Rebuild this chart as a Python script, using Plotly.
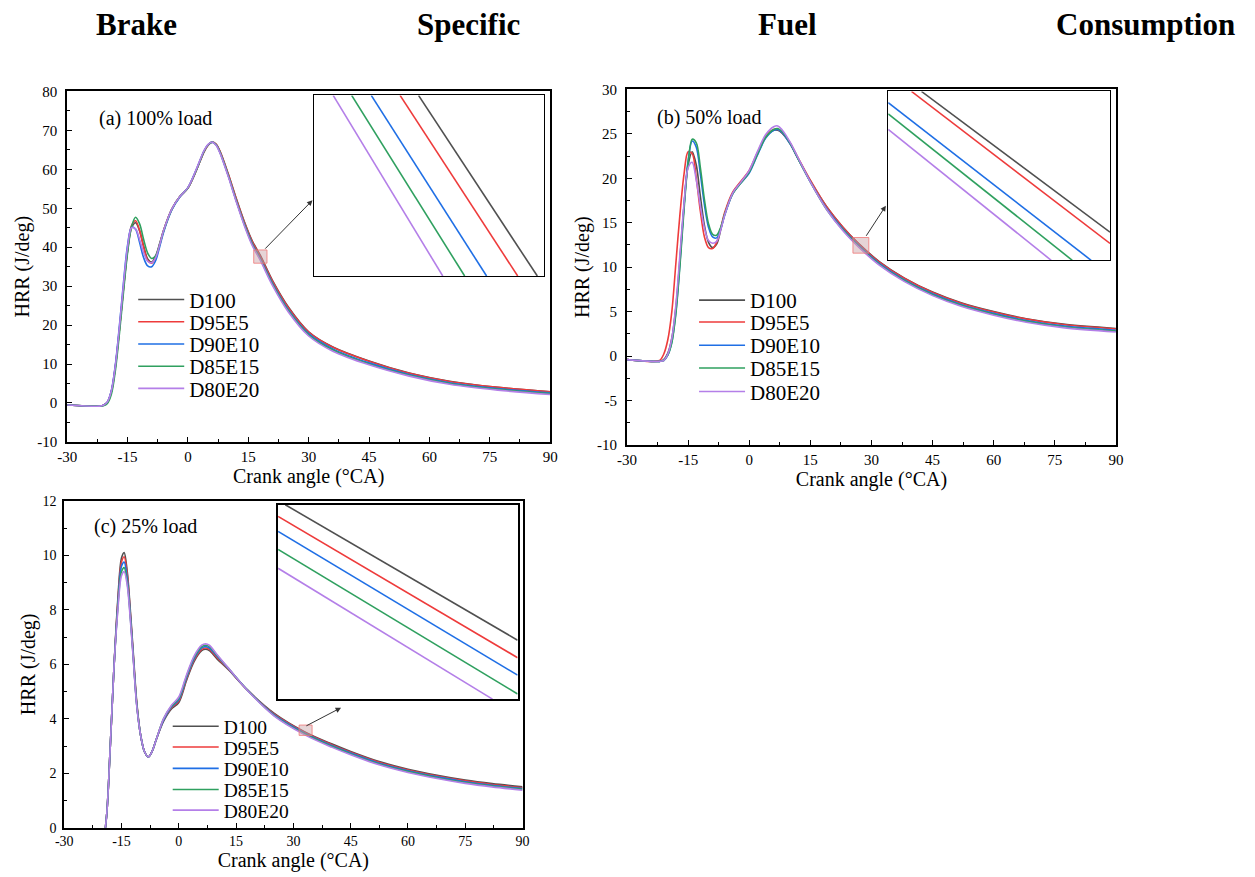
import plotly.graph_objects as go

W, H = 1255, 877
FONT = "Liberation Serif"

series_names = ["D100", "D95E5", "D90E10", "D85E15", "D80E20"]
series_colors = ["#505050", "#ee3b3b", "#1f6fe5", "#2fa05f", "#b47fe8"]

# ---------------- (a) 100% load ----------------
crank_a = [-30, -22, -21, -20, -19, -18, -17, -16, -15, -14, -13, -12, -11, -10, -9, -8, -7, -6,
           -4, -2, 0, 2, 4, 5, 6, 7, 8, 10, 12, 14, 16, 18, 21, 25, 30, 36, 45, 55, 65, 77, 90]
hrr_a_D100 = [-0.5, -0.8, -0.6, 0.2, 3.0, 9.5, 19, 29.5, 39, 45, 46.3, 44.2, 40.3, 37, 36.2, 37.8, 41, 44.5,
              49.8, 53, 55.2, 59.5, 64.5, 66.2, 67, 66.4, 64.5, 58.8, 52.5, 46.6, 41.6, 37.9, 31.5, 24.6, 18.3,
              14.4, 10.8, 7.7, 5.6, 4.0, 2.9]
hrr_a_D95E5 = [-0.5, -0.8, -0.6, 0.2, 3.0, 9.5, 19, 29.5, 39.3, 45.6, 46.8, 44.3, 40, 36.6, 35.9, 37.3, 40.7, 44.4,
               49.8, 53, 55.2, 59.5, 64.5, 66.2, 67, 66.5, 64.6, 58.9, 52.5, 46.5, 41.4, 37.6, 31.3, 24.4, 18.2,
               14.3, 10.7, 7.6, 5.5, 4.0, 2.9]
hrr_a_D90E10 = [-0.5, -0.8, -0.6, 0.3, 3.3, 10, 20, 31, 40.5, 45.2, 44.6, 41.2, 37.3, 35.2, 35, 36.6, 40.2, 44,
                49.6, 52.9, 55.3, 59.7, 64.7, 66.3, 67, 66.3, 64.3, 58.5, 52, 46, 40.9, 37.1, 30.8, 23.9, 17.8,
                13.9, 10.3, 7.3, 5.2, 3.7, 2.6]
hrr_a_D85E15 = [-0.5, -0.8, -0.7, -0.1, 2.3, 8.5, 18, 28.5, 38.5, 45.3, 47.7, 46, 42, 38.5, 37.1, 37.8, 40.8, 44.3,
                49.7, 53, 55.2, 59.6, 64.6, 66.3, 67, 66.3, 64.3, 58.5, 52, 45.9, 40.7, 36.9, 30.5, 23.6, 17.5,
                13.6, 10.0, 7.1, 5.0, 3.5, 2.4]
hrr_a_D80E20 = [-0.5, -0.8, -0.6, 0.3, 3.2, 9.8, 19.7, 30.5, 40, 45, 44.7, 42, 38.6, 36.4, 36, 37.3, 40.7, 44.4,
                49.8, 53, 55.3, 59.8, 64.8, 66.4, 67, 66.2, 64.1, 58.2, 51.7, 45.6, 40.4, 36.6, 30.2, 23.3, 17.2,
                13.3, 9.8, 6.9, 4.8, 3.3, 2.2]

# ---------------- (b) 50% load ----------------
crank_b = [-30, -24, -22, -21, -20, -19, -18, -17, -16, -15, -14, -13, -12, -11, -10, -9, -8, -7, -6,
           -4, -2, 0, 2, 4, 6, 7, 8, 10, 12, 15, 19, 23, 27, 32, 38, 45, 52, 60, 68, 77, 90]
hrr_b_D100 = [-0.4, -0.6, -0.6, -0.4, 0.3, 2.0, 5.5, 11, 17, 21.5, 23, 21.5, 18, 14.7, 12.8, 12.2, 12.6, 14.2, 16,
              18.4, 19.6, 20.8, 22.8, 24.6, 25.4, 25.4, 25.1, 23.9, 22.2, 19.7, 16.8, 14.5, 12.6, 10.6, 8.8,
              7.2, 6.0, 5.0, 4.2, 3.6, 3.1]
hrr_b_D95E5 = [-0.4, -0.6, -0.5, 0.2, 1.8, 5, 10.5, 16, 20.5, 23, 22.8, 20, 16.3, 13.4, 12.2, 12.1, 12.8, 14.4, 16.2,
               18.5, 19.7, 20.9, 22.9, 24.7, 25.5, 25.5, 25.2, 24.0, 22.3, 19.8, 16.8, 14.5, 12.55, 10.55, 8.75,
               7.15, 5.95, 4.95, 4.15, 3.55, 3.05]
hrr_b_D90E10 = [-0.4, -0.6, -0.6, -0.5, 0.1, 1.6, 5.0, 10.5, 17, 22, 24.2, 23.5, 20.5, 17, 14.5, 13.4, 13.3, 14.3, 15.9,
                18.3, 19.5, 20.6, 22.6, 24.5, 25.4, 25.5, 25.2, 23.9, 22.2, 19.6, 16.6, 14.3, 12.4, 10.4, 8.6,
                7.0, 5.8, 4.8, 4.0, 3.4, 2.9]
hrr_b_D85E15 = [-0.4, -0.6, -0.6, -0.5, 0.1, 1.5, 4.8, 10.2, 16.5, 21.8, 24.4, 24.0, 21.2, 17.6, 14.9, 13.7, 13.6, 14.5, 16.0,
                18.3, 19.5, 20.7, 22.7, 24.6, 25.5, 25.6, 25.3, 24.0, 22.2, 19.6, 16.5, 14.2, 12.3, 10.3, 8.5,
                6.9, 5.7, 4.7, 3.9, 3.3, 2.8]
hrr_b_D80E20 = [-0.4, -0.6, -0.6, -0.5, 0.2, 2.0, 5.8, 11.5, 17.2, 21.2, 21.8, 19.8, 16.9, 14.4, 13.0, 12.7, 12.9, 14.2, 15.9,
                18.4, 19.6, 20.9, 23.0, 24.9, 25.8, 25.9, 25.5, 24.1, 22.3, 19.6, 16.5, 14.1, 12.2, 10.2, 8.4,
                6.8, 5.6, 4.6, 3.8, 3.2, 2.7]

# ---------------- (c) 25% load ----------------
crank_c = [-30, -22, -20, -19, -18, -17, -16, -15, -14.3, -13.5, -13, -12, -11, -10, -9, -8, -7, -6,
           -4, -2, 0, 2, 4, 6, 7, 8, 10, 13, 18, 25, 33, 40, 45, 52, 60, 68, 75, 82, 90]
hrr_c_D100 = [-0.5, -0.6, -0.5, 0.3, 2.8, 5.8, 8.3, 9.9, 10.1, 9.4, 8.6, 6.6, 4.6, 3.4, 2.8, 2.6, 2.8, 3.2,
              3.9, 4.35, 4.6, 5.4, 6.1, 6.5, 6.55, 6.5, 6.2, 5.8, 5.05, 4.2, 3.52, 3.08, 2.8, 2.45, 2.15, 1.92,
              1.75, 1.62, 1.5]
hrr_c_D95E5 = [-0.5, -0.6, -0.5, 0.3, 2.8, 5.8, 8.2, 9.75, 9.95, 9.3, 8.5, 6.5, 4.55, 3.4, 2.8, 2.6, 2.8, 3.2,
               3.95, 4.4, 4.65, 5.45, 6.15, 6.55, 6.6, 6.55, 6.25, 5.82, 5.05, 4.17, 3.5, 3.05, 2.77, 2.42, 2.12, 1.89,
               1.72, 1.59, 1.47]
hrr_c_D90E10 = [-0.5, -0.6, -0.5, 0.3, 2.8, 5.8, 8.1, 9.6, 9.75, 9.15, 8.4, 6.45, 4.5, 3.4, 2.8, 2.6, 2.8, 3.2,
                3.95, 4.42, 4.7, 5.5, 6.2, 6.6, 6.65, 6.6, 6.3, 5.84, 5.05, 4.14, 3.47, 3.02, 2.74, 2.39, 2.09, 1.86,
                1.69, 1.56, 1.44]
hrr_c_D85E15 = [-0.5, -0.6, -0.5, 0.3, 2.8, 5.8, 8.0, 9.4, 9.55, 9.0, 8.3, 6.4, 4.5, 3.4, 2.8, 2.6, 2.8, 3.2,
                4.0, 4.45, 4.75, 5.55, 6.25, 6.65, 6.7, 6.65, 6.33, 5.85, 5.05, 4.12, 3.44, 2.99, 2.71, 2.36, 2.06, 1.83,
                1.66, 1.53, 1.41]
hrr_c_D80E20 = [-0.5, -0.6, -0.5, 0.3, 2.8, 5.8, 7.9, 9.25, 9.4, 8.9, 8.2, 6.35, 4.45, 3.4, 2.8, 2.6, 2.8, 3.2,
                4.0, 4.48, 4.8, 5.6, 6.3, 6.7, 6.75, 6.7, 6.36, 5.86, 5.04, 4.1, 3.41, 2.96, 2.68, 2.33, 2.03, 1.8,
                1.63, 1.5, 1.38]

# ---------------- zoomed insets (segment end points, same series order) ----------------
inset_a_xrange = [17.0, 19.0]
inset_a_yrange = [37.0, 39.0]
inset_a_x0 = [17.91, 17.75, 17.50, 17.33, 17.17]
inset_a_y0 = [39.0, 39.0, 39.0, 39.0, 39.0]
inset_a_x1 = [18.94, 18.77, 18.50, 18.31, 18.12]
inset_a_y1 = [37.0, 37.0, 37.0, 37.0, 37.0]

inset_b_xrange = [26.5, 28.5]
inset_b_yrange = [11.6, 12.8]
inset_b_x0 = [26.80, 26.71, 26.50, 26.50, 26.50]
inset_b_y0 = [12.80, 12.80, 12.72, 12.64, 12.53]
inset_b_x1 = [28.50, 28.50, 28.33, 28.16, 27.97]
inset_b_y1 = [11.80, 11.72, 11.60, 11.60, 11.60]

inset_c_xrange = [32.0, 34.0]
inset_c_yrange = [3.40, 3.70]
inset_c_x0 = [32.06, 32.0, 32.0, 32.0, 32.0]
inset_c_y0 = [3.700, 3.682, 3.659, 3.631, 3.602]
inset_c_x1 = [34.0, 34.0, 34.0, 34.0, 33.79]
inset_c_y1 = [3.491, 3.464, 3.437, 3.408, 3.400]

# zoom windows marked on the main charts: [x0, x1, y0, y1]
zoom_a = [16.35, 19.65, 35.9, 39.3]
zoom_b = [25.45, 29.35, 11.58, 13.34]
zoom_c = [31.5, 34.9, 3.39, 3.77]

# tick values / labels (plain hyphen as in the original)
x_tick_vals = [-30, -15, 0, 15, 30, 45, 60, 75, 90]
x_tick_text = ["-30", "-15", "0", "15", "30", "45", "60", "75", "90"]
y_tick_vals_a = [-10, 0, 10, 20, 30, 40, 50, 60, 70, 80]
y_tick_text_a = ["-10", "0", "10", "20", "30", "40", "50", "60", "70", "80"]
y_tick_vals_b = [-10, -5, 0, 5, 10, 15, 20, 25, 30]
y_tick_text_b = ["-10", "-5", "0", "5", "10", "15", "20", "25", "30"]
y_tick_vals_c = [0, 2, 4, 6, 8, 10, 12]
y_tick_text_c = ["0", "2", "4", "6", "8", "10", "12"]

# ---------------------------------------------------------------------------
def px(x):
    return x / W


def py(y):
    return 1 - y / H


def legend_key(k):
    return "legend" if k == 1 else "legend%d" % k


fig = go.Figure()

panels = [
    ("x", "y", crank_a, [hrr_a_D100, hrr_a_D95E5, hrr_a_D90E10, hrr_a_D85E15, hrr_a_D80E20]),
    ("x2", "y2", crank_b, [hrr_b_D100, hrr_b_D95E5, hrr_b_D90E10, hrr_b_D85E15, hrr_b_D80E20]),
    ("x3", "y3", crank_c, [hrr_c_D100, hrr_c_D95E5, hrr_c_D90E10, hrr_c_D85E15, hrr_c_D80E20]),
]
for p, (xa, ya, xs, ys_list) in enumerate(panels):
    for i, (name, color, ys) in enumerate(zip(series_names, series_colors, ys_list)):
        fig.add_trace(go.Scatter(x=xs, y=ys, mode="lines", name=name, legend=legend_key(p * 5 + i + 1),
                                 line=dict(color=color, width=1.6, shape="spline", smoothing=0.9),
                                 xaxis=xa, yaxis=ya, hoverinfo="skip"))

insets = [
    ("x4", "y4", inset_a_x0, inset_a_y0, inset_a_x1, inset_a_y1),
    ("x5", "y5", inset_b_x0, inset_b_y0, inset_b_x1, inset_b_y1),
    ("x6", "y6", inset_c_x0, inset_c_y0, inset_c_x1, inset_c_y1),
]
for xa, ya, x0s, y0s, x1s, y1s in insets:
    for i, (name, color) in enumerate(zip(series_names, series_colors)):
        fig.add_trace(go.Scatter(x=[x0s[i], x1s[i]], y=[y0s[i], y1s[i]], mode="lines", name=name,
                                 showlegend=False, line=dict(color=color, width=1.6),
                                 xaxis=xa, yaxis=ya, hoverinfo="skip"))

title_font = dict(family=FONT, size=20, color="black")


def main_x(domain, anchor, tfs=15):
    return dict(domain=domain, anchor=anchor, range=[-30, 90],
                tickmode="array", tickvals=x_tick_vals, ticktext=x_tick_text,
                ticks="inside", ticklen=5, tickwidth=1.3, tickcolor="black",
                minor=dict(ticks="inside", ticklen=3, tickwidth=1.2, dtick=7.5, tick0=-30, tickcolor="black"),
                showline=True, linecolor="black", linewidth=1.8, mirror=True,
                showgrid=False, zeroline=False,
                tickfont=dict(family=FONT, size=tfs, color="black"),
                title=dict(text="Crank angle (°CA)", font=title_font, standoff=0))


def main_y(domain, anchor, rng, vals, texts, minor, tfs=15, lab_gap=5):
    return dict(domain=domain, anchor=anchor, range=rng,
                tickmode="array", tickvals=vals, ticktext=texts,
                ticks="inside", ticklen=5, tickwidth=1.3, tickcolor="black",
                minor=dict(ticks="inside", ticklen=3, tickwidth=1.2, dtick=minor, tick0=rng[0], tickcolor="black"),
                showline=True, linecolor="black", linewidth=1.8, mirror=True,
                showgrid=False, zeroline=False, ticklabelstandoff=lab_gap,
                tickfont=dict(family=FONT, size=tfs, color="black"),
                title=dict(text="HRR (J/deg)", font=title_font, standoff=2))


def inset_ax(domain, anchor, rng, lw=1.4):
    return dict(domain=domain, anchor=anchor, range=rng, showticklabels=False, ticks="",
                showline=True, linecolor="black", linewidth=lw, mirror=True,
                showgrid=False, zeroline=False, fixedrange=True)


dom_a_x = [px(58), px(548)]
dom_a_y = [py(442), py(85)]
dom_b_x = [px(626), px(1122)]
dom_b_y = [py(445), py(83)]
dom_c_x = [px(55), px(520)]
dom_c_y = [py(835), py(502)]

layout_kw = dict(
    width=W, height=H,
    margin=dict(l=0, r=0, t=0, b=0),
    paper_bgcolor="white", plot_bgcolor="white",
    font=dict(family=FONT, color="black"),
    xaxis=main_x(dom_a_x, "y"),
    yaxis=main_y(dom_a_y, "x", [-10, 80], y_tick_vals_a, y_tick_text_a, 5),
    xaxis2=main_x(dom_b_x, "y2"),
    yaxis2=main_y(dom_b_y, "x2", [-10, 30], y_tick_vals_b, y_tick_text_b, 2.5),
    xaxis3=main_x(dom_c_x, "y3", tfs=14),
    yaxis3=main_y(dom_c_y, "x3", [0, 12], y_tick_vals_c, y_tick_text_c, 1, tfs=14, lab_gap=3),
    xaxis4=inset_ax([px(308), px(542)], "y4", inset_a_xrange),
    yaxis4=inset_ax([py(273), py(89)], "x4", inset_a_yrange),
    xaxis5=inset_ax([px(891), px(1116)], "y5", inset_b_xrange),
    yaxis5=inset_ax([py(257), py(85)], "x5", inset_b_yrange),
    xaxis6=inset_ax([px(272), px(515)], "y6", inset_c_xrange, lw=2),
    yaxis6=inset_ax([py(704), py(506)], "x6", inset_c_yrange, lw=2),
)

# one legend entry per row so the rows can sit as close as in the original
legend_rows = [
    (125, [297.3, 320.0, 342.6, 365.3, 387.8], 21),
    (694, [297.9, 320.2, 343.8, 367.0, 391.0], 21),
    (160, [732.0, 753.0, 774.8, 796.4, 817.4], 19.5),
]
for p, (lx, rows, fs) in enumerate(legend_rows):
    for i, ry in enumerate(rows):
        layout_kw[legend_key(p * 5 + i + 1)] = dict(
            x=px(lx), y=py(ry), xanchor="left", yanchor="middle",
            bgcolor="rgba(0,0,0,0)", borderwidth=0, itemwidth=46,
            itemclick=False, itemdoubleclick=False,
            font=dict(family=FONT, size=fs, color="black"))

fig.update_layout(**layout_kw)

# zoom windows
for (xr, yr), z in zip([("x", "y"), ("x2", "y2"), ("x3", "y3")], [zoom_a, zoom_b, zoom_c]):
    fig.add_shape(type="rect", xref=xr, yref=yr, x0=z[0], x1=z[1], y0=z[2], y1=z[3],
                  fillcolor="rgba(200,160,165,0.45)", line=dict(color="rgba(240,120,120,0.8)", width=1),
                  layer="above")

# arrows from zoom windows to insets
for hx, hy, ax, ay in [(306.9, 195.8, -48.7, 49.9), (888.6, 201.4, -20.6, 31.6), (335.9, 712.7, -36.2, 18.9)]:
    fig.add_annotation(x=px(hx), y=py(hy), xref="paper", yref="paper", ax=ax, ay=ay, text="",
                       showarrow=True, arrowhead=2, arrowsize=1.1, arrowwidth=1, arrowcolor="#333333")

# panel labels
for text, x, y in [("(a) 100% load", 88, 113), ("(b) 50% load", 654, 111.6), ("(c) 25% load", 83, 528)]:
    fig.add_annotation(x=px(x), y=py(y), xref="paper", yref="paper", text=text, showarrow=False,
                       xanchor="left", yanchor="middle", font=dict(family=FONT, size=20, color="black"))

# justified title
for word, cx in [("Brake", 128), ("Specific", 465), ("Fuel", 789), ("Consumption", 1152)]:
    fig.add_annotation(x=px(cx), y=py(17), xref="paper", yref="paper", text="<b>" + word + "</b>",
                       showarrow=False, xanchor="center", yanchor="middle",
                       font=dict(family=FONT, size=31, color="black"))

fig.write_html("out.html")
